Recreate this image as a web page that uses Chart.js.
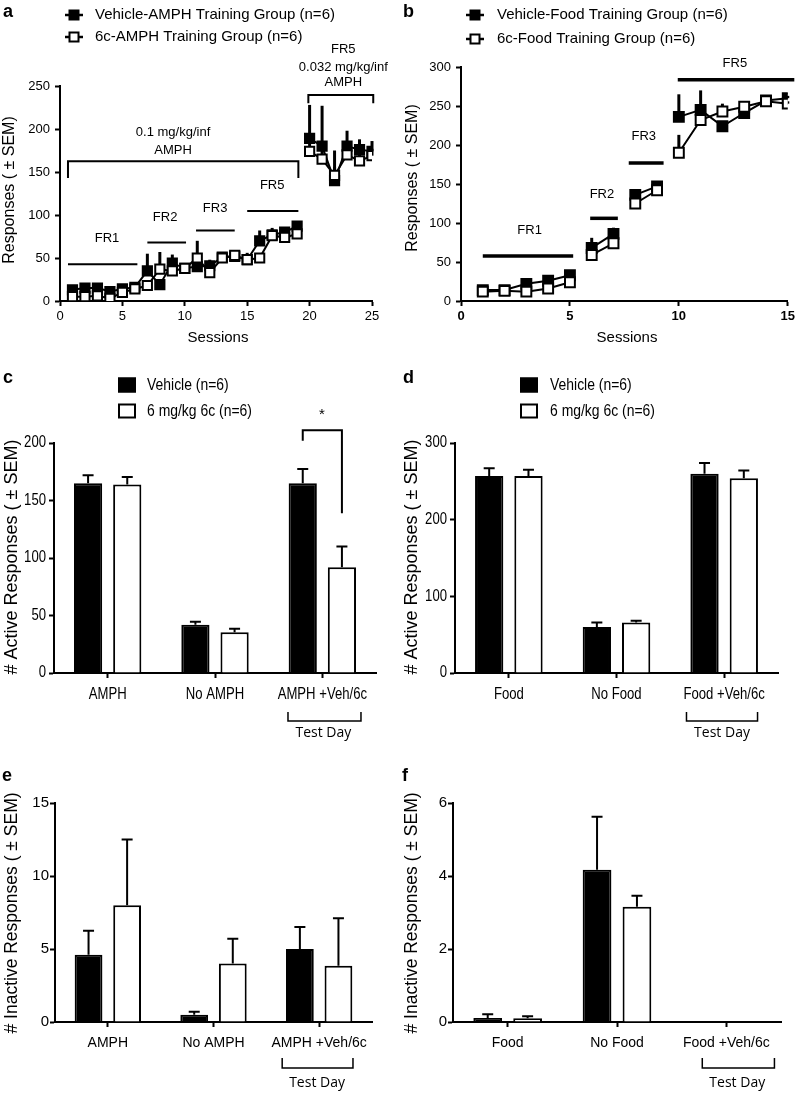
<!DOCTYPE html>
<html>
<head>
<meta charset="utf-8">
<script src="https://cdn.jsdelivr.net/npm/chart.js@4.4.0/dist/chart.umd.min.js"></script>
<style>
body { margin: 0; background: #fff; }
#wrap { position: relative; width: 798px; height: 1093px; }
#wrap canvas { position: absolute; left: 0; top: 0; }
</style>
</head>
<body>
<div id="wrap">
<canvas id="panel_a" width="798" height="1093"></canvas>
<canvas id="panel_b" width="798" height="1093"></canvas>
<canvas id="panel_c" width="798" height="1093"></canvas>
<canvas id="panel_d" width="798" height="1093"></canvas>
<canvas id="panel_e" width="798" height="1093"></canvas>
<canvas id="panel_f" width="798" height="1093"></canvas>
</div>
<script>
// ---- data ----
// a: AMPH self-administration training
const sessionsA = [1, 2, 3, 4, 5, 6, 7, 8, 9, 10, 11, 12, 13, 14, 15, 16, 17, 18, 19, 20, 21, 22, 23, 24, 25];
const vehAmph = [13, 15, 15, 11, 14, 16, 35, 19, 44, 38, 40, 41, 51, 52, 48, 70, 77, 80, 87, 189, 180, 140, 180, 176, 174];
const vehAmphSem = [3, 3, 3, 3, 5, 4, 20, 4, 10, 6, 5, 7, 5, 4, 8, 12, 8, 4, 3, 39, 47, 35, 18, 12, 12];
const sixcAmph = [5, 5, 6, 3, 10, 14, 18, 37, 35, 38, 50, 33, 50, 53, 48, 50, 76, 74, 78, 174, 165, 146, 170, 163, 169];
const sixcAmphSem = [2, 2, 2, 2, 3, 3, 5, 20, 5, 5, 20, 5, 4, 4, 5, 5, 5, 4, 4, 10, 10, 10, 8, 8, 8];

// b: food training
const sessionsB = [1, 2, 3, 4, 5, 6, 7, 8, 9, 10, 11, 12, 13, 14, 15];
const vehFood = [14, 14, 22, 26, 33, 68, 86, 136, 147, 236, 245, 224, 241, 257, 260];
const vehFoodSem = [3, 3, 3, 3, 4, 13, 8, 7, 5, 29, 25, 6, 5, 3, 3];
const sixcFood = [12, 13, 12, 16, 24, 59, 74, 125, 142, 190, 232, 243, 249, 256, 253];
const sixcFoodSem = [3, 3, 3, 3, 4, 5, 5, 5, 5, 23, 8, 10, 5, 3, 3];

// c-f: test day bars
const amphGroups = ["AMPH", "No AMPH", "AMPH +Veh/6c"];
const foodGroups = ["Food", "No Food", "Food +Veh/6c"];
const activeAmphVeh = [165, 42, 165];
const activeAmphVehSem = [7, 2.5, 12.5];
const activeAmph6c = [164, 35.5, 92];
const activeAmph6cSem = [6.5, 3, 18];
const activeFoodVeh = [257, 60, 260];
const activeFoodVehSem = [10, 6, 14];
const activeFood6c = [257, 66, 254];
const activeFood6cSem = [8, 2, 10];
const inactAmphVeh = [4.6, 0.5, 5.0];
const inactAmphVehSem = [1.65, 0.2, 1.5];
const inactAmph6c = [8.0, 4.0, 3.85];
const inactAmph6cSem = [4.5, 1.7, 3.25];
const inactFoodVeh = [0.11, 4.17, 0];
const inactFoodVehSem = [0.1, 1.45, 0];
const inactFood6c = [0.1, 3.16, 0];
const inactFood6cSem = [0.06, 0.3, 0];

// ---- drawing setup ----
const W = 798, H = 1093;
const AXIS_W = 50, AXIS_H = 30;
const ARIAL = "'Liberation Sans', Arial, sans-serif";
const OPEN = "'Open Sans', 'DejaVu Sans', sans-serif";
const NARROW = 0.82; // horizontal squeeze for the condensed lettering of c and d

Chart.defaults.color = "#000";
Chart.defaults.font.family = ARIAL;

function toPx(chart, p, mode) {
    let xs = chart.scales.x, ys = chart.scales.y;
    let x = (mode === "data" || mode === "xdata") ? xs.getPixelForValue(p[0]) : p[0];
    let y = mode === "data" ? ys.getPixelForValue(p[1]) : p[1];
    return [x, y];
}

function squeezedText(ctx, text, x, y, align, sq) {
    ctx.save();
    ctx.translate(x, y);
    ctx.scale(sq, 1);
    ctx.textAlign = align;
    ctx.textBaseline = "middle";
    ctx.fillText(text, 0, 0);
    ctx.restore();
}

// error bars, brackets, labels and legends for one panel
function extras(spec) {
    return {
        id: "extras",
        beforeDatasetsDraw: function (chart) {
            let ctx = chart.ctx;
            let ys = chart.scales.y;
            chart.data.datasets.forEach(function (ds, di) {
                if (!ds.sem) return;
                let meta = chart.getDatasetMeta(di);
                ctx.save();
                ctx.strokeStyle = "#000";
                ctx.lineWidth = spec.errWidth;
                meta.data.forEach(function (el, i) {
                    if (!ds.sem[i]) return;
                    let v = meta.controller.getParsed(i).y;
                    let y0 = ys.getPixelForValue(v);
                    let y1 = ys.getPixelForValue(v + ds.sem[i]);
                    ctx.beginPath();
                    ctx.moveTo(el.x, y0);
                    ctx.lineTo(el.x, y1);
                    if (spec.cap) {
                        ctx.moveTo(el.x - spec.cap, y1);
                        ctx.lineTo(el.x + spec.cap, y1);
                    }
                    ctx.stroke();
                });
                ctx.restore();
            });
        },
        afterDraw: function (chart) {
            let ctx = chart.ctx;
            ctx.save();
            ctx.strokeStyle = "#000";
            ctx.fillStyle = "#000";
            if (spec.tickFont) {
                // condensed tick labels, placed from the chart's own scales
                ctx.font = spec.tickFont;
                let xs = chart.scales.x, ys = chart.scales.y;
                xs.ticks.forEach(function (tk, i) {
                    squeezedText(ctx, String(tk.label), xs.getPixelForTick(i), spec.xLabelY, "center", NARROW);
                });
                ys.ticks.forEach(function (tk, i) {
                    squeezedText(ctx, String(tk.label), ys.right - 8, ys.getPixelForTick(i), "right", NARROW);
                });
            }
            (spec.lines || []).forEach(function (l) {
                ctx.lineWidth = l.w || 2;
                ctx.beginPath();
                l.pts.forEach(function (p, k) {
                    let q = toPx(chart, p, l.mode);
                    if (k === 0) ctx.moveTo(q[0], q[1]); else ctx.lineTo(q[0], q[1]);
                });
                ctx.stroke();
            });
            (spec.texts || []).forEach(function (t) {
                let q = toPx(chart, [t.x, t.y], t.mode || "px");
                ctx.font = t.font;
                ctx.textAlign = t.align || "center";
                ctx.textBaseline = "middle";
                if (t.rot) {
                    ctx.save();
                    ctx.translate(q[0], q[1]);
                    ctx.rotate(-Math.PI / 2);
                    ctx.fillText(t.t, 0, 0);
                    ctx.restore();
                } else {
                    ctx.fillText(t.t, q[0], q[1]);
                }
            });
            (spec.legend || []).forEach(function (g) {
                ctx.lineWidth = 2;
                if (g.kind === "line") {
                    ctx.lineWidth = 2.5;
                    ctx.beginPath();
                    ctx.moveTo(g.x - 9, g.y);
                    ctx.lineTo(g.x + 9, g.y);
                    ctx.stroke();
                    ctx.lineWidth = 2;
                    ctx.fillStyle = g.filled ? "#000" : "#fff";
                    ctx.fillRect(g.x - 4.5, g.y - 4.5, 9, 9);
                    ctx.strokeRect(g.x - 4.5, g.y - 4.5, 9, 9);
                } else {
                    ctx.fillStyle = g.filled ? "#000" : "#fff";
                    ctx.fillRect(g.x, g.y - 7.5, 18, 15);
                    ctx.strokeRect(g.x + 1, g.y - 6.5, 16, 13);
                }
                ctx.fillStyle = "#000";
                ctx.font = g.font;
                squeezedText(ctx, g.text, g.tx, g.y, "left", g.sq || 1);
            });
            ctx.restore();
        }
    };
}

function scalesFor(o) {
    return {
        x: {
            type: o.xType,
            min: o.xMin,
            max: o.xMax,
            offset: o.xType === "category",
            ticks: { display: !o.hideTicks, stepSize: o.xStep, font: o.xFont, padding: o.xPad, maxRotation: 0, autoSkip: false },
            grid: { drawOnChartArea: false, offset: false, tickLength: 5, tickWidth: 2, color: "#000" },
            border: { color: "#000", width: 2 },
            afterFit: function (s) { s.height = AXIS_H; }
        },
        y: {
            min: 0,
            max: o.yMax,
            ticks: { display: !o.hideTicks, stepSize: o.yStep, font: o.yFont, padding: o.yPad },
            grid: { drawOnChartArea: false, tickLength: 5, tickWidth: 2, color: "#000" },
            border: { color: "#000", width: 2 },
            afterFit: function (s) { s.width = AXIS_W; }
        }
    };
}

// box = [left, top, right, bottom] of the plot area in page pixels
function baseOptions(box, scales) {
    return {
        responsive: false,
        animation: false,
        devicePixelRatio: 1,
        layout: { padding: { left: box[0] - AXIS_W, top: box[1], right: W - box[2], bottom: H - box[3] - AXIS_H } },
        plugins: { legend: { display: false }, tooltip: { enabled: false } },
        scales: scales
    };
}

function points(xs, ys) {
    return xs.map(function (x, i) { return { x: x, y: ys[i] }; });
}

function lineSet(xs, ys, sem, filled, gaps, radius, order) {
    return {
        data: points(xs, ys),
        sem: sem,
        order: order,
        borderColor: "#000",
        borderWidth: 2,
        pointStyle: "rect",
        pointRadius: radius,
        pointBorderWidth: 2,
        pointBackgroundColor: filled ? "#000" : "#fff",
        pointBorderColor: "#000",
        segment: {
            borderColor: function (c) { return gaps.indexOf(c.p0.parsed.x) >= 0 ? "rgba(0,0,0,0)" : "#000"; }
        }
    };
}

function barSets(veh, vehSem, sixc, sixcSem) {
    let common = { borderColor: "#000", borderWidth: 2, categoryPercentage: 0.73, barPercentage: 0.72 };
    return [
        Object.assign({ data: veh, sem: vehSem, backgroundColor: "#000" }, common),
        Object.assign({ data: sixc, sem: sixcSem, backgroundColor: "#fff" }, common)
    ];
}

const letterFont = "bold 18px " + ARIAL;
const titleFont = "16px " + ARIAL;
const frFont = "13px " + ARIAL;

// ---- a ----
new Chart(document.getElementById("panel_a"), {
    type: "line",
    data: { datasets: [
        lineSet(sessionsA, vehAmph, vehAmphSem, true, [19], 6.5, 2),
        lineSet(sessionsA, sixcAmph, sixcAmphSem, false, [19], 6.5, 1)
    ] },
    options: baseOptions([60, 86, 372, 301], scalesFor({
        xType: "linear", xMin: 0, xMax: 25, xStep: 5, xFont: { size: 13 }, xPad: 3,
        yMax: 250, yStep: 50, yFont: { size: 13 }, yPad: 5
    })),
    plugins: [extras({
        errWidth: 3, cap: 0,
        lines: [
            { mode: "data", pts: [[0.64, 143], [0.64, 162.6], [19.1, 162.6], [19.1, 143]] },
            { mode: "data", pts: [[19.9, 230], [19.9, 239.5], [25.1, 239.5], [25.1, 230]] },
            { mode: "data", pts: [[0.64, 42.7], [6.2, 42.7]] },
            { mode: "data", pts: [[7, 68], [10.1, 68]] },
            { mode: "data", pts: [[10.9, 82], [14, 82]] },
            { mode: "data", pts: [[15, 104.6], [19.1, 104.6]] }
        ],
        texts: [
            { t: "a", x: 3, y: 12, font: letterFont, align: "left" },
            { t: "Responses ( \u00b1 SEM)", x: 10, y: 190, font: titleFont, rot: true },
            { t: "Sessions", x: 218, y: 338, font: "15px " + ARIAL },
            { t: "FR5", x: 22.7, y: 292, mode: "data", font: frFont },
            { t: "0.032 mg/kg/inf", x: 22.7, y: 272, mode: "data", font: frFont },
            { t: "AMPH", x: 22.7, y: 254.6, mode: "data", font: frFont },
            { t: "0.1 mg/kg/inf", x: 9.06, y: 196.4, mode: "data", font: frFont },
            { t: "AMPH", x: 9.06, y: 175.4, mode: "data", font: frFont },
            { t: "FR5", x: 17.0, y: 134.7, mode: "data", font: frFont },
            { t: "FR3", x: 12.43, y: 108, mode: "data", font: frFont },
            { t: "FR2", x: 8.42, y: 97.4, mode: "data", font: frFont },
            { t: "FR1", x: 3.77, y: 73, mode: "data", font: frFont }
        ],
        legend: [
            { kind: "line", filled: true, x: 74, y: 15, tx: 95, text: "Vehicle-AMPH Training Group (n=6)", font: "15px " + ARIAL },
            { kind: "line", filled: false, x: 74, y: 37, tx: 95, text: "6c-AMPH Training Group (n=6)", font: "15px " + ARIAL }
        ]
    })]
});

// ---- b ----
new Chart(document.getElementById("panel_b"), {
    type: "line",
    data: { datasets: [
        lineSet(sessionsB, vehFood, vehFoodSem, true, [5, 7, 9], 7, 2),
        lineSet(sessionsB, sixcFood, sixcFoodSem, false, [5, 7, 9], 7, 1)
    ] },
    options: baseOptions([461, 67, 790, 301], scalesFor({
        xType: "linear", xMin: 0, xMax: 15, xStep: 5, xFont: { size: 13, weight: "bold" }, xPad: 3,
        yMax: 300, yStep: 50, yFont: { size: 13 }, yPad: 5
    })),
    plugins: [extras({
        errWidth: 3, cap: 0,
        lines: [
            { mode: "data", w: 3.5, pts: [[1, 57.8], [5.15, 57.8]] },
            { mode: "data", w: 3.5, pts: [[5.93, 106], [7.2, 106]] },
            { mode: "data", w: 3.5, pts: [[7.7, 176.8], [9.3, 176.8]] },
            { mode: "data", w: 3.5, pts: [[9.95, 283.7], [15.3, 283.7]] }
        ],
        texts: [
            { t: "b", x: 403, y: 12, font: letterFont, align: "left" },
            { t: "Responses ( \u00b1 SEM)", x: 413, y: 178, font: titleFont, rot: true },
            { t: "Sessions", x: 627, y: 338, font: "15px " + ARIAL },
            { t: "FR1", x: 3.15, y: 91, mode: "data", font: frFont },
            { t: "FR2", x: 6.47, y: 136, mode: "data", font: frFont },
            { t: "FR3", x: 8.39, y: 211, mode: "data", font: frFont },
            { t: "FR5", x: 12.57, y: 304, mode: "data", font: frFont }
        ],
        legend: [
            { kind: "line", filled: true, x: 475, y: 15, tx: 497, text: "Vehicle-Food Training Group (n=6)", font: "15px " + ARIAL },
            { kind: "line", filled: false, x: 475, y: 39, tx: 497, text: "6c-Food Training Group (n=6)", font: "15px " + ARIAL }
        ]
    })]
});

// ---- c ----
const activeTitle = "# Active Responses ( \u00b1 SEM)";
const inactiveTitle = "# Inactive Responses ( \u00b1 SEM)";
const legendFont = "17px " + ARIAL;
const condensedTicks = "16px " + ARIAL;
const testDayFont = "14px " + OPEN;

new Chart(document.getElementById("panel_c"), {
    type: "bar",
    data: { labels: amphGroups, datasets: barSets(activeAmphVeh, activeAmphVehSem, activeAmph6c, activeAmph6cSem) },
    options: baseOptions([54, 443, 376, 673], scalesFor({
        xType: "category", hideTicks: true, yMax: 200, yStep: 50
    })),
    plugins: [extras({
        errWidth: 2, cap: 5.5,
        tickFont: condensedTicks, xLabelY: 695,
        lines: [
            { mode: "data", pts: [[1.8175, 202], [1.8175, 211], [2.1825, 211], [2.1825, 139]] },
            { mode: "xdata", w: 1.5, pts: [[1.68, 712], [1.68, 721], [2.36, 721], [2.36, 712]] }
        ],
        texts: [
            { t: "c", x: 3, y: 378, font: letterFont, align: "left" },
            { t: activeTitle, x: 12, y: 557, font: "18px " + ARIAL, rot: true },
            { t: "*", x: 322, y: 415, font: "15px " + ARIAL },
            { t: "Test Day", x: 2.01, y: 733, mode: "xdata", font: testDayFont }
        ],
        legend: [
            { kind: "box", filled: true, x: 118, y: 385, tx: 147, text: "Vehicle (n=6)", font: legendFont, sq: NARROW },
            { kind: "box", filled: false, x: 118, y: 411, tx: 147, text: "6 mg/kg 6c (n=6)", font: legendFont, sq: NARROW }
        ]
    })]
});

// ---- d ----
new Chart(document.getElementById("panel_d"), {
    type: "bar",
    data: { labels: foodGroups, datasets: barSets(activeFoodVeh, activeFoodVehSem, activeFood6c, activeFood6cSem) },
    options: baseOptions([455, 443, 778, 673], scalesFor({
        xType: "category", hideTicks: true, yMax: 300, yStep: 100
    })),
    plugins: [extras({
        errWidth: 2, cap: 5.5,
        tickFont: condensedTicks, xLabelY: 695,
        lines: [
            { mode: "xdata", w: 1.5, pts: [[1.65, 712], [1.65, 721], [2.31, 721], [2.31, 712]] }
        ],
        texts: [
            { t: "d", x: 403, y: 378, font: letterFont, align: "left" },
            { t: activeTitle, x: 412, y: 557, font: "18px " + ARIAL, rot: true },
            { t: "Test Day", x: 1.98, y: 733, mode: "xdata", font: testDayFont }
        ],
        legend: [
            { kind: "box", filled: true, x: 520, y: 385, tx: 550, text: "Vehicle (n=6)", font: legendFont, sq: NARROW },
            { kind: "box", filled: false, x: 520, y: 411, tx: 550, text: "6 mg/kg 6c (n=6)", font: legendFont, sq: NARROW }
        ]
    })]
});

// ---- e ----
new Chart(document.getElementById("panel_e"), {
    type: "bar",
    data: { labels: amphGroups, datasets: barSets(inactAmphVeh, inactAmphVehSem, inactAmph6c, inactAmph6cSem) },
    options: baseOptions([55, 803, 372, 1022], scalesFor({
        xType: "category", xFont: { size: 14 }, xPad: 8,
        yMax: 15, yStep: 5, yFont: { size: 15 }, yPad: 1
    })),
    plugins: [extras({
        errWidth: 2, cap: 5.5,
        lines: [
            { mode: "xdata", w: 1.5, pts: [[1.65, 1058], [1.65, 1068], [2.32, 1068], [2.32, 1058]] }
        ],
        texts: [
            { t: "e", x: 2, y: 776, font: letterFont, align: "left" },
            { t: inactiveTitle, x: 12, y: 913, font: "17.5px " + ARIAL, rot: true },
            { t: "Test Day", x: 1.98, y: 1083, mode: "xdata", font: testDayFont }
        ]
    })]
});

// ---- f ----
new Chart(document.getElementById("panel_f"), {
    type: "bar",
    data: { labels: foodGroups, datasets: barSets(inactFoodVeh, inactFoodVehSem, inactFood6c, inactFood6cSem) },
    options: baseOptions([453, 803, 781, 1022], scalesFor({
        xType: "category", xFont: { size: 14 }, xPad: 8,
        yMax: 6, yStep: 2, yFont: { size: 15 }, yPad: 1
    })),
    plugins: [extras({
        errWidth: 2, cap: 5.5,
        lines: [
            { mode: "xdata", w: 1.5, pts: [[1.78, 1058], [1.78, 1068], [2.44, 1068], [2.44, 1058]] }
        ],
        texts: [
            { t: "f", x: 402, y: 776, font: letterFont, align: "left" },
            { t: inactiveTitle, x: 412, y: 913, font: "17.5px " + ARIAL, rot: true },
            { t: "Test Day", x: 2.1, y: 1083, mode: "xdata", font: testDayFont }
        ]
    })]
});
</script>
</body>
</html>
